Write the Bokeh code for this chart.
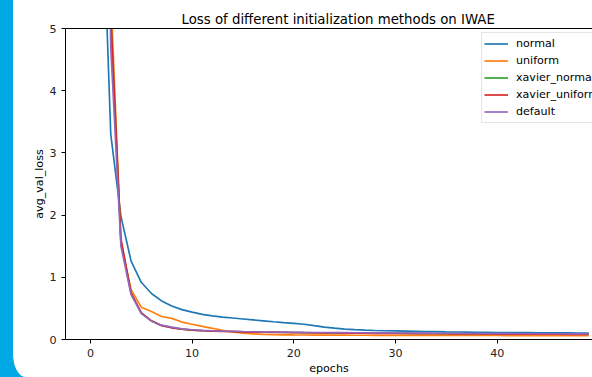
from bokeh.plotting import figure
from bokeh.models import Range1d, LinearAxis, FixedTicker, Legend, LegendItem, Spacer, Label
from bokeh.layouts import row
from bokeh.embed import file_html
from bokeh.resources import INLINE

epochs = list(range(50))

normal = [30, 8.0, 3.3, 1.98, 1.26, 0.92, 0.74, 0.62, 0.54, 0.48,
          0.44, 0.405, 0.38, 0.36, 0.345, 0.33, 0.315, 0.3, 0.285, 0.272,
          0.26, 0.245, 0.222, 0.2, 0.182, 0.168, 0.158, 0.15, 0.145, 0.141,
          0.138, 0.135, 0.132, 0.129, 0.126, 0.123, 0.121, 0.119, 0.117, 0.115,
          0.113, 0.112, 0.111, 0.11, 0.109, 0.108, 0.107, 0.106, 0.105, 0.104]

uniform = [60, 25, 5.6, 1.55, 0.8, 0.52, 0.45, 0.37, 0.34, 0.28,
           0.245, 0.21, 0.18, 0.148, 0.122, 0.102, 0.09, 0.082, 0.078, 0.075,
           0.073, 0.072, 0.071, 0.07, 0.07, 0.069, 0.068, 0.068, 0.067, 0.067,
           0.066, 0.066, 0.066, 0.065, 0.065, 0.065, 0.065, 0.064, 0.064, 0.064,
           0.064, 0.063, 0.063, 0.063, 0.063, 0.063, 0.062, 0.062, 0.062, 0.062]

xavier_normal = [45, 18, 5.1, 1.58, 0.74, 0.42, 0.3, 0.225, 0.19, 0.168,
                 0.152, 0.143, 0.137, 0.132, 0.128, 0.124, 0.121, 0.118, 0.116, 0.114,
                 0.112, 0.11, 0.108, 0.107, 0.106, 0.105, 0.104, 0.103, 0.102, 0.101,
                 0.1, 0.099, 0.098, 0.097, 0.096, 0.095, 0.094, 0.093, 0.092, 0.091,
                 0.09, 0.089, 0.088, 0.088, 0.087, 0.087, 0.086, 0.086, 0.085, 0.085]

xavier_uniform = [50, 20, 5.2, 1.62, 0.75, 0.43, 0.3, 0.222, 0.188, 0.165,
                  0.15, 0.141, 0.135, 0.13, 0.126, 0.122, 0.119, 0.116, 0.114, 0.112,
                  0.11, 0.108, 0.106, 0.105, 0.104, 0.102, 0.101, 0.1, 0.099, 0.098,
                  0.097, 0.096, 0.095, 0.094, 0.093, 0.092, 0.091, 0.09, 0.089, 0.088,
                  0.087, 0.086, 0.086, 0.085, 0.085, 0.084, 0.084, 0.083, 0.083, 0.082]

default = [40, 15, 4.7, 1.5, 0.72, 0.42, 0.295, 0.23, 0.198, 0.172,
           0.157, 0.147, 0.141, 0.136, 0.132, 0.128, 0.125, 0.122, 0.12, 0.118,
           0.116, 0.114, 0.113, 0.112, 0.111, 0.11, 0.109, 0.108, 0.107, 0.106,
           0.105, 0.104, 0.103, 0.102, 0.101, 0.1, 0.099, 0.098, 0.097, 0.096,
           0.095, 0.094, 0.094, 0.093, 0.093, 0.092, 0.092, 0.091, 0.091, 0.09]

series_names = ["normal", "uniform", "xavier_normal", "xavier_uniform", "default"]
series_values = [normal, uniform, xavier_normal, xavier_uniform, default]
colors = ["#1f77b4", "#ff7f0e", "#2ca02c", "#d62728", "#9467bd"]

x_ticks = [0, 10, 20, 30, 40, 50]
y_ticks = [0, 1, 2, 3, 4, 5]

FONT = "DejaVu Sans"
LBL = "11.1px"
FIG_W = 579
BORDER_L = 52
px_per_unit = 10.17
x_start = -2.45
x_end = x_start + (FIG_W - BORDER_L) / px_per_unit

p = figure(width=FIG_W, height=377, output_backend="svg", toolbar_location=None,
           x_range=Range1d(x_start, x_end), y_range=Range1d(0, 5),
           min_border_left=BORDER_L, min_border_right=0, min_border_top=28,
           min_border_bottom=38,
           title="Loss of different initialization methods on IWAE",
           styles={"border-bottom-left-radius": "13px 24px", "overflow": "hidden",
                   "background-color": "white"})
p.outline_line_color = None
p.background_fill_color = "white"
p.border_fill_color = "white"
p.xgrid.visible = False
p.ygrid.visible = False

p.title.text_font = FONT
p.title.text_font_size = "13.3px"
p.title.text_font_style = "normal"
p.title.text_color = "black"
p.title.align = "left"
p.title.offset = 116
p.title.standoff = 4

for ax, ticks, label in ((p.xaxis[0], x_ticks, "epochs"), (p.yaxis[0], y_ticks, "avg_val_loss")):
    ax.ticker = FixedTicker(ticks=ticks)
    ax.axis_label = label
    ax.axis_label_text_font = FONT
    ax.axis_label_text_font_size = LBL
    ax.axis_label_text_font_style = "normal"
    ax.axis_label_text_color = "black"
    ax.major_label_text_font = FONT
    ax.major_label_text_font_size = LBL
    ax.major_label_text_color = "#222222"
    ax.major_tick_out = 4
    ax.major_tick_in = 0
    ax.minor_tick_out = 0
    ax.minor_tick_in = 0
    ax.axis_line_color = "black"
    ax.major_tick_line_color = "black"
p.xaxis[0].major_label_standoff = 5
p.xaxis[0].axis_label_standoff = 2
p.yaxis[0].major_label_standoff = 5
p.yaxis[0].axis_label_standoff = 0

top_axis = LinearAxis(ticker=FixedTicker(ticks=[]), major_label_text_font_size="0px",
                      major_tick_out=0, major_tick_in=0, minor_tick_out=0, minor_tick_in=0,
                      major_label_standoff=0, axis_line_color="black")
p.add_layout(top_axis, "above")

# last x tick label, which lies at the (cropped) right edge of the picture
last_tick = x_ticks[-1]
p.add_layout(Label(x=last_tick, y=0, text=str(last_tick), text_align="center",
                   text_baseline="top", y_offset=-9, text_font=FONT,
                   text_font_size=LBL, text_color="#222222"))

items = []
for name, vals, c in zip(series_names, series_values, colors):
    r = p.line(epochs, vals, line_color=c, line_width=1.67)
    items.append(LegendItem(label=name, renderers=[r]))

legend = Legend(items=items, location=(416, 216), margin=0, padding=2, spacing=0,
                glyph_width=24, glyph_height=17, label_height=17, label_standoff=8,
                label_text_font=FONT, label_text_font_size=LBL, label_text_color="black",
                border_line_color="#cccccc", border_line_width=1,
                background_fill_color="white", background_fill_alpha=0.8)
p.add_layout(legend)

layout = row(Spacer(width=13, height=377), p, styles={"background-color": "#00a8e6"})

open("out.html", "w").write(file_html(layout, INLINE))
